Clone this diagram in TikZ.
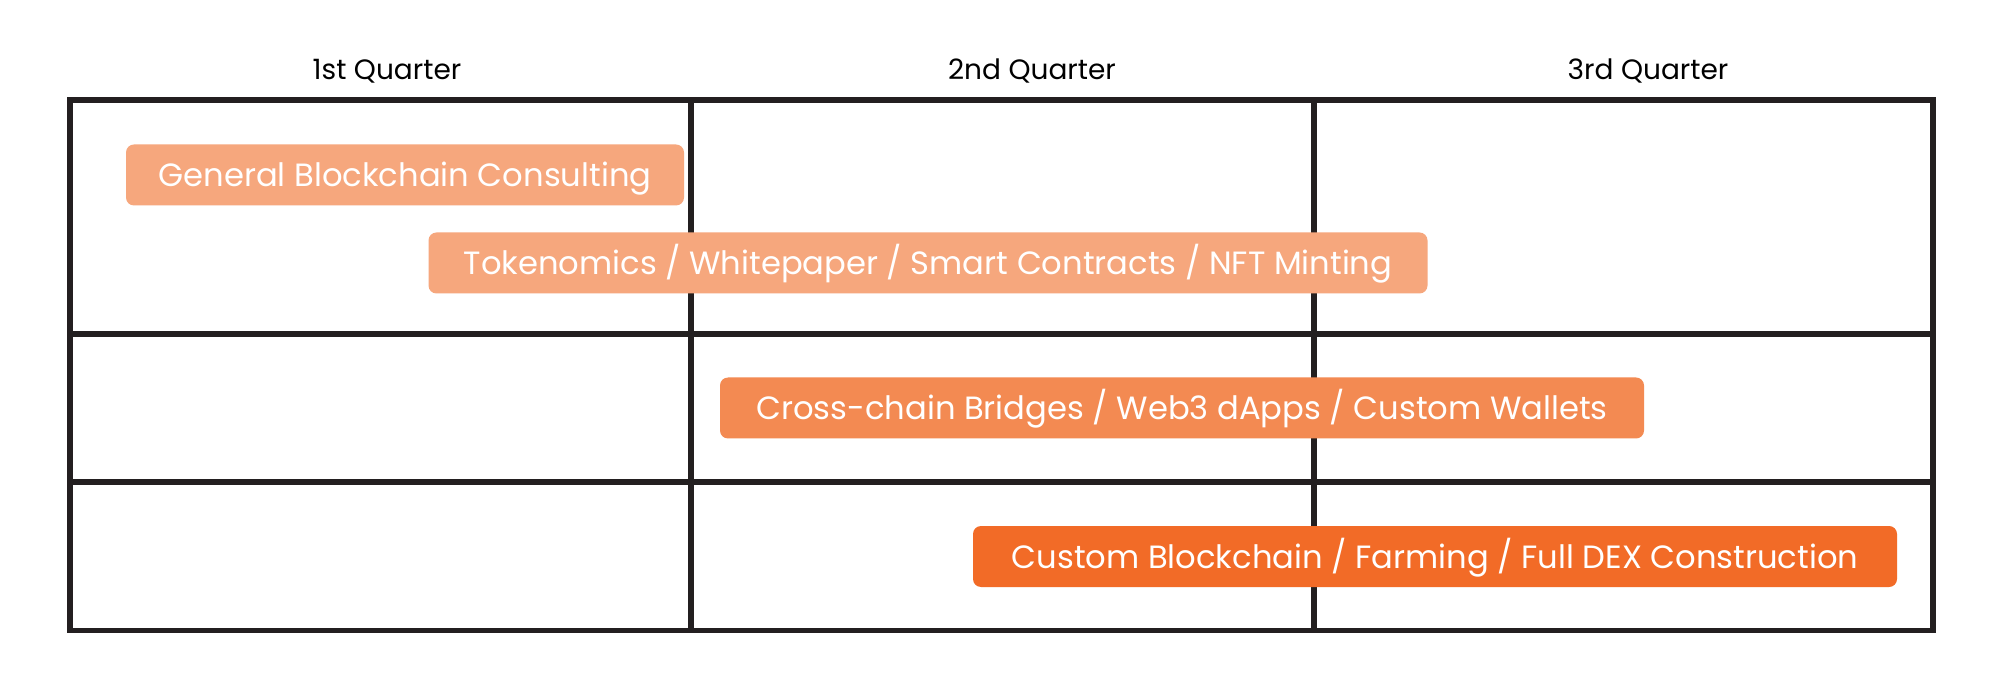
\documentclass[tikz,border=0pt]{standalone}
\usepackage{fontspec}
\setmainfont{Poppins}
\definecolor{gridc}{HTML}{231F20}
\definecolor{barA}{HTML}{F6A77D}
\definecolor{barB}{HTML}{F38A52}
\definecolor{barC}{HTML}{F26B27}
\tikzset{
  gridline/.style={draw=gridc, line width=2.75pt, line cap=rect},
  bar/.style={rounded corners=4pt, minimum height=30.5pt, inner sep=0pt, text height=11.7pt, text depth=0pt, text=white, font=\fontsize{16.1pt}{19pt}\selectfont, anchor=center},
  head/.style={text=black, inner sep=0pt, text height=9.8pt, text depth=0pt, font=\fontsize{14pt}{17pt}\selectfont, anchor=center},
}
\begin{document}
\begin{tikzpicture}[x=0.5pt, y=-0.5pt]
\useasboundingbox (0,0) rectangle (2000,683);
\fill[white] (0,0) rectangle (2000,683);
% grid coordinates
\coordinate (tl) at (70,100);
\coordinate (tr) at (1933,100);
\coordinate (bl) at (70,630.5);
\coordinate (br) at (1933,630.5);
\coordinate (c1t) at (691,100);
\coordinate (c1b) at (691,630.5);
\coordinate (c2t) at (1314,100);
\coordinate (c2b) at (1314,630.5);
\coordinate (r1l) at (70,334);
\coordinate (r1r) at (1933,334);
\coordinate (r2l) at (70,482);
\coordinate (r2r) at (1933,482);
\draw[gridline] (tl) rectangle (br);
\draw[gridline] (c1t) -- (c1b);
\draw[gridline] (c2t) -- (c2b);
\draw[gridline] (r1l) -- (r1r);
\draw[gridline] (r2l) -- (r2r);
% headers
\node[head] (h1) at (387,69.7) {1st Quarter};
\node[head] (h2) at (1032,69.7) {2nd Quarter};
\node[head] (h3) at (1648,69.7) {3rd Quarter};
% bars
\node[bar, fill=barA, minimum width=279pt] (b1) at (405,175) {General Blockchain Consulting};
\node[bar, fill=barA, minimum width=499.5pt] (b2) at (928,263) {Tokenomics / Whitepaper / Smart Contracts / NFT Minting};
\node[bar, fill=barB, minimum width=462pt] (b3) at (1182,408) {Cross-chain Bridges / Web3 dApps / Custom Wallets};
\node[bar, fill=barC, minimum width=462pt] (b4) at (1435,556.5) {Custom Blockchain / Farming / Full DEX Construction};
\end{tikzpicture}
\end{document}
